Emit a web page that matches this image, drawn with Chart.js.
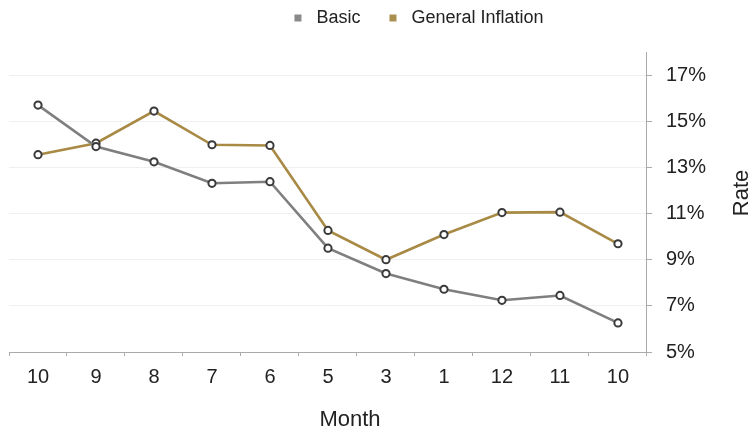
<!DOCTYPE html>
<html>
<head>
<meta charset="utf-8">
<script src="https://cdn.jsdelivr.net/npm/chart.js@4"></script>
<style>
  html, body { margin: 0; padding: 0; background: #ffffff; }
  #wrap { width: 753px; height: 429px; position: relative; }
</style>
</head>
<body>
<div id="wrap"><canvas id="chart"></canvas></div>
<script>
// Months along the horizontal axis
const months = ['10', '9', '8', '7', '6', '5', '3', '1', '12', '11', '10'];
// Rates in percent
const basicRate = [15.7, 13.9, 13.24, 12.31, 12.38, 9.5, 8.4, 7.72, 7.24, 7.45, 6.26];
const generalInflation = [13.55, 14.05, 15.44, 13.98, 13.95, 10.27, 9.0, 10.09, 11.04, 11.06, 9.69];
// Rate axis ticks
const rateTicks = [5, 7, 9, 11, 13, 15, 17];
// Axis titles
const xTitle = 'Month';
const yTitle = 'Rate';

const FONT = '"Liberation Sans", Arial, Helvetica, sans-serif';
const TEXT = '#222222';

// Legend with square swatches plus the two axis titles ("Rate" reads bottom to top)
const extras = {
  id: 'extras',
  afterDraw(chart) {
    const ctx = chart.ctx;
    ctx.save();

    // legend row
    ctx.font = '18px ' + FONT;
    ctx.textBaseline = 'middle';
    ctx.textAlign = 'left';
    const box = 7, boxGap = 15, itemGap = 29, legendY = 18;
    const items = chart.data.datasets.map(ds => ({
      text: ds.label, color: ds.legendColor, w: ctx.measureText(ds.label).width
    }));
    const total = items.reduce((s, it) => s + box + boxGap + it.w, 0) + itemGap * (items.length - 1);
    let x = 419 - total / 2;
    items.forEach(it => {
      ctx.fillStyle = it.color;
      ctx.fillRect(x, legendY - box / 2, box, box);
      x += box + boxGap;
      ctx.fillStyle = TEXT;
      ctx.fillText(it.text, x, legendY);
      x += it.w + itemGap;
    });

    // x axis title
    ctx.font = '22px ' + FONT;
    ctx.textAlign = 'center';
    ctx.fillStyle = TEXT;
    ctx.fillText(xTitle, 350, 420);

    // y axis title, rotated
    ctx.translate(742, 193);
    ctx.rotate(-Math.PI / 2);
    ctx.fillText(yTitle, 0, 0);

    ctx.restore();
  }
};

new Chart(document.getElementById('chart'), {
  type: 'line',
  plugins: [extras],
  data: {
    labels: months,
    datasets: [
      {
        label: 'Basic',
        data: basicRate,
        borderColor: '#7f7f7f',
        backgroundColor: '#7f7f7f',
        legendColor: '#8a8a8a',
        borderWidth: 2.6,
        pointRadius: 3.6,
        pointBorderWidth: 2,
        pointBorderColor: '#3a3a3a',
        pointBackgroundColor: '#ffffff',
        tension: 0
      },
      {
        label: 'General Inflation',
        data: generalInflation,
        borderColor: '#a88a45',
        backgroundColor: '#a88a45',
        legendColor: '#a98f50',
        borderWidth: 2.6,
        pointRadius: 3.6,
        pointBorderWidth: 2,
        pointBorderColor: '#3a3a3a',
        pointBackgroundColor: '#ffffff',
        tension: 0
      }
    ]
  },
  options: {
    responsive: true,
    maintainAspectRatio: false,
    animation: false,
    layout: { padding: { left: 9, right: 33, top: 52, bottom: 31 } },
    plugins: {
      tooltip: { enabled: false },
      legend: { display: false }
    },
    scales: {
      x: {
        type: 'category',
        offset: true,
        border: { display: true, color: '#aaaaaa', width: 1 },
        grid: {
          display: true,
          offset: true,
          drawOnChartArea: false,
          drawTicks: true,
          tickLength: 4,
          tickColor: '#aaaaaa'
        },
        ticks: {
          color: TEXT,
          padding: 9,
          maxRotation: 0,
          font: { family: FONT, size: 20 }
        }
      },
      y: {
        position: 'right',
        min: 5,
        max: 18,
        afterBuildTicks(axis) {
          axis.ticks = rateTicks.map(v => ({ value: v }));
        },
        border: { display: true, color: '#aaaaaa', width: 1 },
        grid: {
          color: '#f0f0f0',
          lineWidth: 1,
          drawTicks: true,
          tickLength: 5,
          tickColor: '#aaaaaa'
        },
        ticks: {
          color: TEXT,
          padding: 14,
          font: { family: FONT, size: 20 },
          callback: v => v + '%'
        }
      }
    }
  }
});
</script>
</body>
</html>
